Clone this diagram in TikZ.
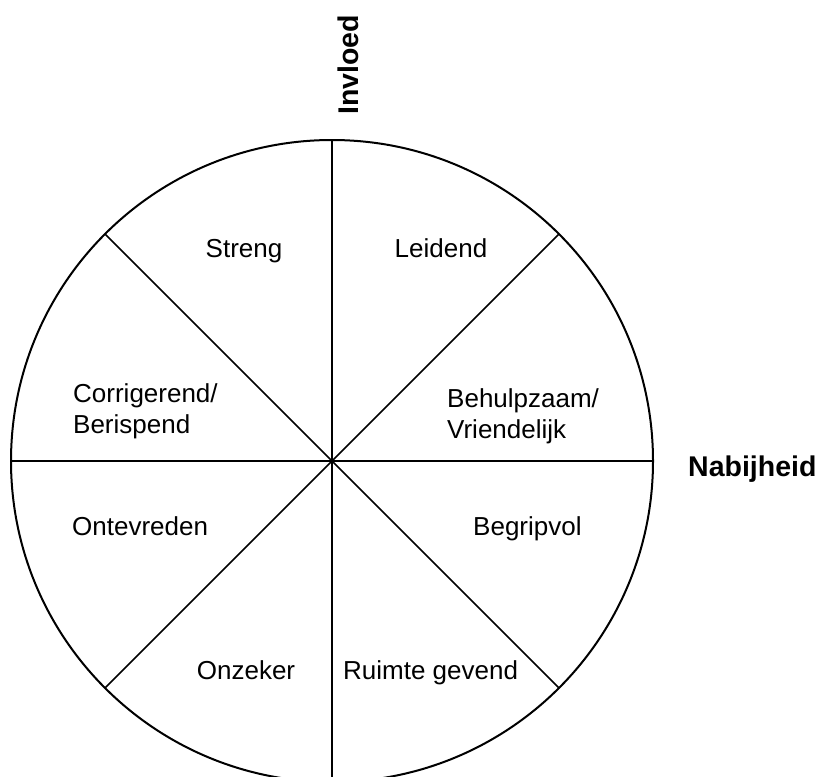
\documentclass[tikz,border=0pt]{standalone}
\usepackage{fontspec}
\setmainfont{Liberation Sans}
\usetikzlibrary{positioning}
\tikzset{
  rim/.style={line width=2pt},
  spoke/.style={line width=1.6pt},
  slbl/.style={inner sep=0pt, font=\fontsize{26}{31}\selectfont, align=left},
  axlbl/.style={inner sep=0pt, font=\fontsize{28.5}{32}\selectfont\bfseries},
}

\begin{document}
\begin{tikzpicture}[x=1pt, y=-1pt]
    \useasboundingbox (0,0) rectangle (821,776);
    \coordinate (c) at (332,461);
    % wheel
    \draw[rim] (c) circle (321);
    \draw[rim] (c) ++(0,-321) -- ++(0,642);
    \draw[rim] (c) ++(-321,0) -- ++(642,0);
    \foreach \a in {45,135}
      \draw[spoke] (c) ++(\a:321) -- ++(\a+180:642);
    % sectors
    \node[slbl, anchor=base] (streng) at (244,257) {Streng};
    \node[slbl, anchor=base] (leidend) at (441,257) {Leidend};
    \node[slbl, anchor=north west] (corr) at (73,383) {Corrigerend/\\Berispend};
    \node[slbl, anchor=north west] (behulp) at (447,388) {Behulpzaam/\\Vriendelijk};
    \node[slbl, anchor=base west] (ontev) at (72,535) {Ontevreden};
    \node[slbl, anchor=base west] (begrip) at (473,535) {Begripvol};
    \node[slbl, anchor=base] (onzeker) at (246,679) {Onzeker};
    \node[slbl, anchor=base west] (ruimte) at (343,679) {Ruimte gevend};
    % axes
    \node[axlbl, anchor=base, rotate=90] (invloed) at (358,65) {Invloed};
    \node[axlbl, anchor=base west] (nabij) at (688,476) {Nabijheid};
\end{tikzpicture}
\end{document}
